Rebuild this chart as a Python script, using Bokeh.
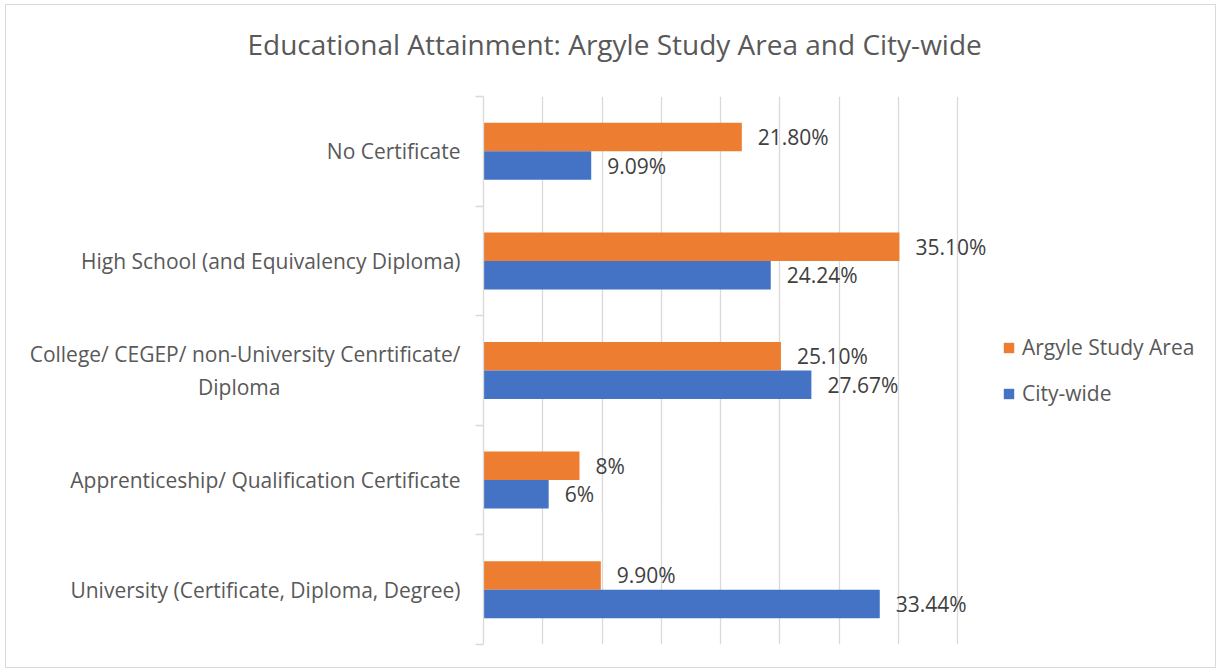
import numpy as np
from bokeh.plotting import figure
from bokeh.models import (ColumnDataSource, LabelSet, FixedTicker, Legend, LegendItem,
                          Grid, SingleIntervalTicker, Range1d, Title)
from bokeh.core.properties import value
from bokeh.embed import file_html
from bokeh.resources import INLINE

# ---------------- data ----------------
categories = [
    "No Certificate",
    "High School (and Equivalency Diploma)",
    "College/ CEGEP/ non-University Cenrtificate/\nDiploma",
    "Apprenticeship/ Qualification Certificate",
    "University (Certificate, Diploma, Degree)",
]
argyle = [21.80, 35.10, 25.10, 8.1, 9.90]
city = [9.09, 24.24, 27.67, 5.5, 33.44]
argyle_labels = ["21.80%", "35.10%", "25.10%", "8%", "9.90%"]
city_labels = ["9.09%", "24.24%", "27.67%", "6%", "33.44%"]
series_names = ["Argyle Study Area", "City-wide"]
title_text = "Educational Attainment: Argyle Study Area and City-wide"
x_max_axis = 40  # value axis runs 0..40 %

FONT = "Open Sans"
ORANGE = "#ED7D31"
BLUE = "#4472C4"
GRID = "#D9D9D9"

n = len(categories)
centers = np.arange(n)[::-1] + 0.5   # first category on top
half = 0.13

src_a = ColumnDataSource(dict(y=centers + half, v=argyle, lab=argyle_labels))
src_c = ColumnDataSource(dict(y=centers - half, v=city, lab=city_labels))

# frame extends to the right so data labels / legend are not clipped;
# 474 px correspond to 40 %
FW = 732
x_end = x_max_axis * FW / 474.0

p = figure(frame_width=FW, frame_height=548,
           x_range=Range1d(0, x_end), y_range=Range1d(0, n),
           output_backend="svg", toolbar_location=None,
           x_axis_location=None,
           min_border_left=477, min_border_right=0,
           min_border_top=91, min_border_bottom=23)
p.styles = {"border": "1px solid #d9d9d9"}
p.margin = (4, 0, 0, 5)
p.background_fill_color = "white"
p.border_fill_color = "white"
p.outline_line_color = None
p.title.visible = False

for g in p.grid:
    g.visible = False
p.add_layout(Grid(dimension=0, ticker=SingleIntervalTicker(interval=5),
                  bounds=(0, x_max_axis),
                  grid_line_color=GRID, grid_line_width=1.3))

# y axis (category axis)
def centred_last_line(label, pad=33):
    if "\n" in label:
        return label + "\u00a0" * pad
    return label

ax = p.yaxis[0]
ax.ticker = FixedTicker(ticks=[float(c) for c in centers],
                        minor_ticks=[float(i) for i in range(n + 1)])
ax.major_label_overrides = {float(c): centred_last_line(cat)
                            for c, cat in zip(centers, categories)}
ax.axis_line_color = GRID
ax.axis_line_width = 1.3
ax.major_tick_line_color = None
ax.major_tick_out = 0
ax.major_tick_in = 0
ax.minor_tick_line_color = GRID
ax.minor_tick_line_width = 1.3
ax.minor_tick_out = 8
ax.minor_tick_in = 0
ax.major_label_standoff = 15
ax.major_label_text_font = FONT
ax.major_label_text_font_size = "21px"
ax.major_label_text_color = "#595959"

# bars
ra = p.hbar(y="y", left=0, right="v", height=0.26, source=src_a,
            fill_color=ORANGE, line_color=None)
rc = p.hbar(y="y", left=0, right="v", height=0.26, source=src_c,
            fill_color=BLUE, line_color=None)

for src in (src_a, src_c):
    p.add_layout(LabelSet(x="v", y="y", text="lab", source=src, x_offset=16,
                          text_align="left", text_baseline="middle",
                          text_font=value(FONT), text_font_size="21px",
                          text_color="#404040"))

# legend
legend = Legend(items=[LegendItem(label=series_names[0], renderers=[ra]),
                       LegendItem(label=series_names[1], renderers=[rc])],
                location=(519, 237), orientation="vertical",
                padding=0, margin=0, border_line_color=None,
                background_fill_alpha=0,
                glyph_width=13, glyph_height=13, label_height=28,
                spacing=18, label_standoff=7,
                label_text_font=FONT, label_text_font_size="21px",
                label_text_color="#595959")
p.add_layout(legend, "center")

# spacer between title and frame (closest to the frame), then the title
p.add_layout(Title(text=" ", text_font_size="1px", standoff=31), "above")
p.add_layout(Title(text=title_text, align="left", offset=-236, standoff=0,
                   text_font=FONT, text_font_size="28px",
                   text_font_style="normal", text_color="#595959"), "above")

open("out.html", "w").write(file_html(p, INLINE))
